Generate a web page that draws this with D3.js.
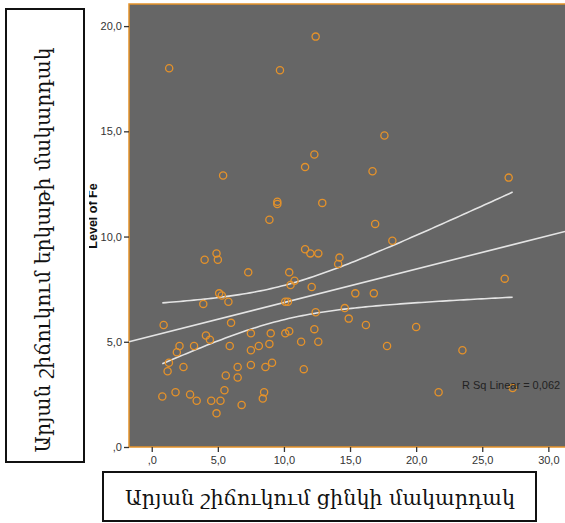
<!DOCTYPE html>
<html>
<head>
<meta charset="utf-8">
<script src="https://cdn.jsdelivr.net/npm/d3@7"></script>
<style>
  body { margin: 0; background: #fff; }
  svg { display: block; }
</style>
</head>
<body>
<svg id="chart"></svg>
<script>
// zinc level (x) and iron level (y)
var zinc = [1.32, 9.7, 12.4, 5.4, 17.6, 12.3, 11.6, 16.7, 27.0, 12.9,
            9.5, 9.5, 16.9, 18.2, 11.6, 12.0, 12.6, 14.2, 14.1, 10.4,
            10.8, 10.5, 12.1, 26.7, 10.1, 10.3, 15.4, 16.8, 12.4, 14.6,
            14.9, 16.2, 20.0, 10.1, 10.4, 12.3, 11.3, 12.6, 17.8, 23.5,
            11.5, 21.7, 27.3, 8.9, 4.9, 4.0, 5.0, 7.3, 5.1, 5.3,
            3.9, 5.8, 0.9, 6.0, 4.1, 4.4, 7.5, 9.0, 2.1, 3.2,
            5.9, 8.1, 8.9, 7.5, 1.9, 1.3, 1.2, 2.4, 6.5, 5.6,
            6.5, 7.5, 8.6, 9.1, 0.8, 1.8, 2.9, 3.4, 4.5, 5.2,
            5.5, 4.9, 6.8, 8.5, 8.4];
var iron = [18.0, 17.9, 19.5, 12.9, 14.8, 13.9, 13.3, 13.1, 12.8, 11.6,
            11.65, 11.55, 10.6, 9.8, 9.4, 9.2, 9.2, 9.0, 8.7, 8.3,
            7.9, 7.7, 7.6, 8.0, 6.9, 6.9, 7.3, 7.3, 6.4, 6.6,
            6.1, 5.8, 5.7, 5.4, 5.5, 5.6, 5.0, 5.0, 4.8, 4.6,
            3.7, 2.6, 2.8, 10.8, 9.2, 8.9, 8.9, 8.3, 7.3, 7.2,
            6.8, 6.9, 5.8, 5.9, 5.3, 5.1, 5.4, 5.4, 4.8, 4.8,
            4.8, 4.8, 4.9, 4.6, 4.5, 4.0, 3.6, 3.8, 3.8, 3.4,
            3.3, 3.9, 3.8, 4.0, 2.4, 2.6, 2.5, 2.2, 2.2, 2.2,
            2.7, 1.6, 2.0, 2.6, 2.3];
var xTicks = [0, 5, 10, 15, 20, 25, 30];
var yTicks = [0, 5, 10, 15, 20];
var rSqLabel = "R Sq Linear = 0,062";
var yTitle = "Level of Fe";
var leftTitle = "Արյան շիճուկում երկաթի մակարդակ";
var bottomTitle = "Արյան շիճուկում ցինկի մակարդակ";

var W = 565, H = 523;
var plot = {left: 129, top: 4, right: 565, bottom: 447};
var orange = "#e5922a";

var svg = d3.select('#chart').attr('width', W).attr('height', H)
    .attr('font-family', 'Arial, "Liberation Sans", sans-serif');

var x = d3.scaleLinear().domain([-1.72, 31.26]).range([plot.left, plot.right]);
var y = d3.scaleLinear().domain([0, 21.05]).range([plot.bottom, plot.top]);

var fmt = function(d) {
  return d === 0 ? ',0' : d3.format('.1f')(d).replace('.', ',');
};

// plot background
svg.append('rect')
    .attr('x', plot.left).attr('y', plot.top)
    .attr('width', plot.right - plot.left).attr('height', plot.bottom - plot.top)
    .attr('fill', '#666666');
svg.append('path')
    .attr('d', 'M' + (plot.right + 1) + ',' + plot.top + 'H' + plot.left + 'V' + plot.bottom + 'H' + (plot.right + 1))
    .attr('fill', 'none').attr('stroke', orange).attr('stroke-width', 1.5);

// axes
var yAxis = svg.append('g')
    .attr('transform', 'translate(' + plot.left + ',0)')
    .call(d3.axisLeft(y).tickValues(yTicks).tickFormat(fmt).tickSize(5).tickPadding(2));
var xAxis = svg.append('g')
    .attr('transform', 'translate(0,' + plot.bottom + ')')
    .call(d3.axisBottom(x).tickValues(xTicks).tickFormat(fmt).tickSize(5).tickPadding(4));
[xAxis, yAxis].forEach(function(a) {
  a.select('.domain').remove();
  a.selectAll('.tick line').attr('stroke', '#333').attr('stroke-width', 1.3);
  a.selectAll('.tick text').attr('fill', '#333').attr('font-size', 11)
      .attr('font-family', 'Arial, "Liberation Sans", sans-serif');
});

// linear fit with 95% mean confidence band
var n = zinc.length;
var mx = d3.mean(zinc), my = d3.mean(iron);
var sxx = d3.sum(zinc, function(v) { return (v - mx) * (v - mx); });
var sxy = d3.sum(zinc, function(v, i) { return (v - mx) * (iron[i] - my); });
var slope = sxy / sxx, icpt = my - slope * mx;
var sse = d3.sum(zinc, function(v, i) { var r = iron[i] - (icpt + slope * v); return r * r; });
var se = Math.sqrt(sse / (n - 2));
var tcrit = 1.989;
var fit = function(v) { return icpt + slope * v; };
var half = function(v) { return tcrit * se * Math.sqrt(1 / n + (v - mx) * (v - mx) / sxx); };

var xs = d3.range(0, 101).map(function(i) {
  var lo = d3.min(zinc), hi = d3.max(zinc);
  return lo + (hi - lo) * i / 100;
});
var line = d3.line().x(function(d) { return x(d[0]); }).y(function(d) { return y(d[1]); });
var lineColor = '#e4e4e4';

svg.append('path')
    .datum([[x.domain()[0], fit(x.domain()[0])], [x.domain()[1], fit(x.domain()[1])]])
    .attr('d', line).attr('fill', 'none').attr('stroke', lineColor).attr('stroke-width', 1.6);
svg.append('path')
    .datum(xs.map(function(v) { return [v, fit(v) + half(v)]; }))
    .attr('d', line).attr('fill', 'none').attr('stroke', lineColor).attr('stroke-width', 1.6);
svg.append('path')
    .datum(xs.map(function(v) { return [v, fit(v) - half(v)]; }))
    .attr('d', line).attr('fill', 'none').attr('stroke', lineColor).attr('stroke-width', 1.6);

// points
svg.append('g').selectAll('circle')
    .data(zinc)
    .enter()
    .append('circle')
    .attr('cx', function(d) { return x(d); })
    .attr('cy', function(d, i) { return y(iron[i]); })
    .attr('r', 3.6)
    .attr('fill', 'none')
    .attr('stroke', orange)
    .attr('stroke-width', 1.3);

svg.append('text')
    .attr('x', 462).attr('y', 389)
    .attr('font-size', 11).attr('fill', '#222')
    .text(rSqLabel);

// y title, its top partly cut off
svg.append('clipPath').attr('id', 'ttlclip')
  .append('rect').attr('x', 89).attr('y', 0).attr('width', 40).attr('height', H);
svg.append('g')
    .attr('clip-path', 'url(#ttlclip)')
  .append('text')
    .attr('transform', 'translate(97,216) rotate(-90)')
    .attr('text-anchor', 'middle')
    .attr('font-size', 12.5).attr('font-weight', 'bold').attr('fill', '#111')
    .text(yTitle);

// framed Armenian titles
svg.append('rect')
    .attr('x', 6).attr('y', 9).attr('width', 78).attr('height', 453)
    .attr('fill', '#fff').attr('stroke', '#111').attr('stroke-width', 2);
svg.append('text')
    .attr('transform', 'translate(50,250) rotate(-90)')
    .attr('text-anchor', 'middle')
    .attr('font-family', '"DejaVu Serif", serif')
    .attr('font-size', 21).attr('fill', '#111')
    .attr('textLength', 405).attr('lengthAdjust', 'spacingAndGlyphs')
    .text(leftTitle);

svg.append('rect')
    .attr('x', 103).attr('y', 472).attr('width', 433).attr('height', 49)
    .attr('fill', '#fff').attr('stroke', '#111').attr('stroke-width', 2);
svg.append('text')
    .attr('x', 320).attr('y', 505)
    .attr('text-anchor', 'middle')
    .attr('font-family', '"DejaVu Serif", serif')
    .attr('font-size', 21).attr('fill', '#111')
    .attr('textLength', 390).attr('lengthAdjust', 'spacingAndGlyphs')
    .text(bottomTitle);
</script>
</body>
</html>
